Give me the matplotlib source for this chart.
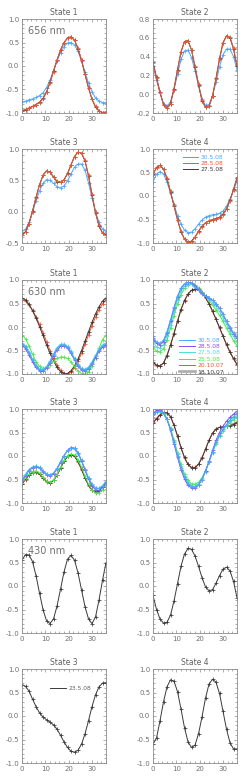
import matplotlib
matplotlib.use('Agg')
import matplotlib.pyplot as plt
from matplotlib.lines import Line2D
from matplotlib.ticker import MultipleLocator
import numpy as np

plt.rcParams['axes.unicode_minus'] = False

# sampling angle (every 1.5 units, 0..36)
angle = np.arange(0, 37.5, 1.5)

# ---------------- 656 nm ----------------
h656_s1_305 = [-0.77, -0.75, -0.72, -0.70, -0.67, -0.63, -0.57, -0.46, -0.30, -0.10, 0.10, 0.28, 0.41,
               0.49, 0.50, 0.45, 0.31, 0.11, -0.13, -0.36, -0.55, -0.68, -0.75, -0.78, -0.78]
h656_s1_285 = [-0.95, -0.92, -0.89, -0.86, -0.82, -0.78, -0.70, -0.56, -0.36, -0.12, 0.12, 0.33, 0.49,
               0.59, 0.62, 0.55, 0.38, 0.13, -0.17, -0.46, -0.70, -0.86, -0.95, -0.99, -0.98]
h656_s1_275 = [-0.96, -0.93, -0.90, -0.86, -0.82, -0.77, -0.69, -0.55, -0.35, -0.11, 0.13, 0.34, 0.50,
               0.60, 0.62, 0.55, 0.37, 0.12, -0.18, -0.47, -0.71, -0.87, -0.96, -0.99, -0.98]

h656_s2_305 = [0.30, 0.15, 0.01, -0.10, -0.13, -0.08, 0.05, 0.21, 0.37, 0.46, 0.47, 0.39, 0.25,
               0.09, -0.05, -0.12, -0.11, -0.02, 0.13, 0.29, 0.42, 0.48, 0.48, 0.40, 0.26]
h656_s2_285 = [0.33, 0.17, 0.02, -0.11, -0.15, -0.10, 0.05, 0.25, 0.45, 0.56, 0.57, 0.47, 0.30,
               0.11, -0.06, -0.14, -0.13, -0.02, 0.16, 0.37, 0.54, 0.62, 0.61, 0.49, 0.31]
h656_s2_275 = [0.34, 0.18, 0.02, -0.11, -0.15, -0.10, 0.06, 0.26, 0.45, 0.56, 0.57, 0.47, 0.29,
               0.10, -0.07, -0.14, -0.13, -0.02, 0.17, 0.38, 0.55, 0.62, 0.60, 0.48, 0.30]

h656_s3_305 = [-0.32, -0.28, -0.17, -0.01, 0.17, 0.33, 0.45, 0.51, 0.50, 0.45, 0.40, 0.38, 0.41,
               0.49, 0.60, 0.71, 0.76, 0.76, 0.66, 0.46, 0.22, 0.00, -0.17, -0.28, -0.32]
h656_s3_285 = [-0.38, -0.33, -0.20, 0.00, 0.22, 0.42, 0.58, 0.65, 0.63, 0.56, 0.49, 0.47, 0.50,
               0.60, 0.74, 0.88, 0.95, 0.94, 0.82, 0.58, 0.28, -0.01, -0.22, -0.34, -0.38]
h656_s3_275 = [-0.37, -0.32, -0.19, 0.01, 0.23, 0.43, 0.58, 0.65, 0.63, 0.55, 0.48, 0.47, 0.51,
               0.61, 0.75, 0.88, 0.95, 0.93, 0.81, 0.57, 0.27, -0.02, -0.23, -0.34, -0.37]

h656_s4_305 = [0.30, 0.46, 0.52, 0.47, 0.30, 0.06, -0.18, -0.42, -0.60, -0.73, -0.78, -0.77, -0.70,
               -0.60, -0.51, -0.45, -0.42, -0.40, -0.39, -0.37, -0.32, -0.22, -0.06, 0.12, 0.31]
h656_s4_285 = [0.45, 0.60, 0.65, 0.58, 0.38, 0.10, -0.20, -0.50, -0.75, -0.92, -0.98, -0.97, -0.88,
               -0.76, -0.65, -0.57, -0.53, -0.50, -0.49, -0.46, -0.40, -0.28, -0.10, 0.13, 0.38]
h656_s4_275 = [0.46, 0.61, 0.65, 0.57, 0.37, 0.09, -0.21, -0.51, -0.76, -0.92, -0.98, -0.96, -0.87,
               -0.75, -0.64, -0.57, -0.53, -0.50, -0.48, -0.45, -0.39, -0.27, -0.09, 0.14, 0.39]

# ---------------- 630 nm ----------------
r630_s1_305 = [-0.36, -0.42, -0.55, -0.70, -0.83, -0.91, -0.92, -0.86, -0.74, -0.59, -0.46, -0.39, -0.38,
               -0.43, -0.54, -0.68, -0.81, -0.90, -0.92, -0.87, -0.76, -0.62, -0.49, -0.40, -0.36]
r630_s1_285 = [-0.39, -0.46, -0.59, -0.74, -0.86, -0.93, -0.94, -0.88, -0.77, -0.62, -0.49, -0.41, -0.40,
               -0.45, -0.56, -0.70, -0.83, -0.92, -0.94, -0.89, -0.79, -0.65, -0.52, -0.43, -0.39]
r630_s1_275 = [-0.34, -0.40, -0.53, -0.68, -0.81, -0.89, -0.90, -0.84, -0.72, -0.57, -0.44, -0.37, -0.36,
               -0.41, -0.52, -0.66, -0.79, -0.88, -0.90, -0.85, -0.74, -0.60, -0.47, -0.38, -0.34]
r630_s1_255 = [-0.17, -0.25, -0.40, -0.58, -0.74, -0.84, -0.88, -0.86, -0.80, -0.73, -0.67, -0.64, -0.64,
               -0.67, -0.74, -0.84, -0.93, -0.99, -1.00, -0.95, -0.83, -0.65, -0.45, -0.27, -0.17]
r630_s1_2010 = [0.57, 0.55, 0.47, 0.36, 0.22, 0.06, -0.12, -0.31, -0.50, -0.67, -0.81, -0.92, -0.98,
                -1.00, -0.96, -0.87, -0.73, -0.56, -0.37, -0.17, 0.03, 0.21, 0.37, 0.49, 0.57]
r630_s1_1810 = [0.62, 0.58, 0.48, 0.35, 0.19, 0.01, -0.18, -0.38, -0.56, -0.72, -0.86, -0.95, -1.00,
                -0.99, -0.93, -0.83, -0.68, -0.50, -0.30, -0.10, 0.10, 0.28, 0.43, 0.55, 0.62]

r630_s2_305 = [-0.20, -0.32, -0.35, -0.28, -0.10, 0.15, 0.42, 0.66, 0.83, 0.92, 0.95, 0.93, 0.86,
               0.78, 0.71, 0.66, 0.62, 0.57, 0.50, 0.40, 0.27, 0.13, -0.01, -0.12, -0.21]
r630_s2_285 = [-0.24, -0.35, -0.38, -0.31, -0.12, 0.13, 0.40, 0.64, 0.82, 0.91, 0.95, 0.94, 0.88,
               0.80, 0.72, 0.66, 0.62, 0.57, 0.50, 0.40, 0.27, 0.12, -0.02, -0.14, -0.24]
r630_s2_275 = [-0.32, -0.42, -0.45, -0.38, -0.20, 0.05, 0.32, 0.57, 0.76, 0.87, 0.92, 0.92, 0.87,
               0.80, 0.72, 0.65, 0.59, 0.52, 0.44, 0.33, 0.20, 0.06, -0.08, -0.20, -0.31]
r630_s2_255 = [-0.43, -0.51, -0.53, -0.46, -0.28, -0.03, 0.24, 0.49, 0.69, 0.82, 0.89, 0.92, 0.90,
               0.84, 0.75, 0.66, 0.57, 0.47, 0.37, 0.25, 0.12, -0.02, -0.15, -0.29, -0.40]
r630_s2_2010 = [-0.76, -0.82, -0.83, -0.76, -0.60, -0.38, -0.13, 0.13, 0.38, 0.57, 0.70, 0.78, 0.80,
                0.78, 0.72, 0.62, 0.49, 0.33, 0.16, -0.02, -0.20, -0.38, -0.54, -0.68, -0.80]
r630_s2_1810 = [-0.75, -0.81, -0.83, -0.77, -0.61, -0.39, -0.14, 0.12, 0.37, 0.56, 0.70, 0.78, 0.81,
                0.79, 0.73, 0.63, 0.50, 0.34, 0.17, -0.01, -0.19, -0.37, -0.53, -0.67, -0.79]

r630_s3_305 = [-0.52, -0.40, -0.30, -0.24, -0.22, -0.25, -0.32, -0.39, -0.41, -0.37, -0.27, -0.13, 0.01,
               0.12, 0.17, 0.16, 0.07, -0.09, -0.28, -0.46, -0.60, -0.68, -0.69, -0.64, -0.55]
r630_s3_285 = [-0.54, -0.42, -0.31, -0.25, -0.23, -0.26, -0.33, -0.40, -0.42, -0.38, -0.28, -0.14, 0.00,
               0.12, 0.18, 0.17, 0.07, -0.10, -0.30, -0.49, -0.64, -0.72, -0.73, -0.67, -0.57]
r630_s3_275 = [-0.51, -0.39, -0.29, -0.23, -0.21, -0.24, -0.31, -0.38, -0.40, -0.36, -0.26, -0.12, 0.01,
               0.11, 0.16, 0.14, 0.05, -0.11, -0.29, -0.47, -0.61, -0.68, -0.69, -0.63, -0.54]
r630_s3_255 = [-0.58, -0.47, -0.38, -0.33, -0.32, -0.36, -0.45, -0.53, -0.56, -0.51, -0.40, -0.24, -0.09,
               0.01, 0.04, 0.02, -0.08, -0.24, -0.43, -0.60, -0.72, -0.78, -0.78, -0.72, -0.60]
r630_s3_2010 = [-0.60, -0.50, -0.41, -0.36, -0.35, -0.39, -0.47, -0.55, -0.57, -0.52, -0.41, -0.26, -0.11,
                -0.01, 0.02, -0.01, -0.12, -0.29, -0.47, -0.63, -0.73, -0.76, -0.74, -0.67, -0.57]
r630_s3_1810 = [-0.59, -0.49, -0.40, -0.35, -0.34, -0.38, -0.46, -0.54, -0.57, -0.52, -0.41, -0.26, -0.11,
                -0.01, 0.03, 0.00, -0.11, -0.28, -0.46, -0.62, -0.72, -0.76, -0.74, -0.67, -0.58]

r630_s4_305 = [0.84, 0.93, 0.96, 0.92, 0.79, 0.57, 0.29, 0.01, -0.25, -0.45, -0.59, -0.65, -0.66,
               -0.61, -0.50, -0.33, -0.13, 0.09, 0.29, 0.45, 0.57, 0.67, 0.76, 0.84, 0.91]
r630_s4_285 = [0.90, 0.97, 0.98, 0.92, 0.78, 0.55, 0.26, -0.03, -0.29, -0.49, -0.62, -0.68, -0.68,
               -0.62, -0.50, -0.32, -0.11, 0.12, 0.33, 0.50, 0.63, 0.74, 0.82, 0.89, 0.95]
r630_s4_275 = [0.88, 0.94, 0.95, 0.91, 0.78, 0.58, 0.31, 0.04, -0.22, -0.42, -0.56, -0.63, -0.64,
               -0.59, -0.48, -0.32, -0.13, 0.08, 0.27, 0.43, 0.55, 0.65, 0.73, 0.80, 0.86]
r630_s4_255 = [0.92, 0.95, 0.95, 0.90, 0.78, 0.59, 0.34, 0.07, -0.18, -0.38, -0.52, -0.59, -0.60,
               -0.56, -0.46, -0.31, -0.13, 0.07, 0.26, 0.42, 0.54, 0.64, 0.71, 0.77, 0.82]
r630_s4_2010 = [0.72, 0.80, 0.88, 0.93, 0.92, 0.83, 0.65, 0.42, 0.17, -0.04, -0.18, -0.24, -0.24,
                -0.17, -0.03, 0.15, 0.34, 0.49, 0.58, 0.61, 0.62, 0.63, 0.65, 0.69, 0.73]
r630_s4_1810 = [0.70, 0.79, 0.87, 0.92, 0.92, 0.84, 0.66, 0.43, 0.18, -0.03, -0.18, -0.25, -0.25,
                -0.18, -0.04, 0.14, 0.33, 0.48, 0.57, 0.61, 0.62, 0.63, 0.64, 0.67, 0.71]

# ---------------- 430 nm ----------------
b430_s1 = [0.55, 0.67, 0.66, 0.52, 0.22, -0.15, -0.50, -0.74, -0.80, -0.70, -0.43, -0.07, 0.30,
           0.57, 0.65, 0.55, 0.28, -0.08, -0.44, -0.70, -0.80, -0.66, -0.30, 0.12, 0.50]
b430_s2 = [-0.20, -0.50, -0.70, -0.79, -0.77, -0.62, -0.32, 0.05, 0.42, 0.68, 0.80, 0.78, 0.64,
           0.42, 0.18, -0.02, -0.10, -0.08, 0.06, 0.22, 0.36, 0.40, 0.32, 0.10, -0.25]
b430_s3 = [0.67, 0.63, 0.53, 0.36, 0.20, 0.07, -0.02, -0.08, -0.13, -0.19, -0.28, -0.41, -0.55,
           -0.67, -0.75, -0.77, -0.73, -0.60, -0.38, -0.10, 0.20, 0.45, 0.62, 0.70, 0.71]
b430_s4 = [-0.60, -0.47, -0.10, 0.30, 0.62, 0.77, 0.74, 0.52, 0.15, -0.25, -0.55, -0.67, -0.62,
           -0.38, -0.02, 0.38, 0.68, 0.78, 0.72, 0.48, 0.10, -0.28, -0.57, -0.70, -0.70]

states = ['State 1', 'State 2', 'State 3', 'State 4']
x_ticks = [0, 10, 20, 30]

# colours per observing date
c_blue = '#4aa6ff'
c_red = '#f2542c'
c_dark = '#3a3a3a'
c_purple = '#8a4cf0'
c_cyan = '#4fdcdc'
c_green = '#45ec45'
frame = '#8c8c8c'
txt = '#707070'

labels_656 = ['30.5.08', '28.5.08', '27.5.08']
colors_656 = [c_blue, c_red, c_dark]
series_656 = [
    [h656_s1_305, h656_s1_285, h656_s1_275],
    [h656_s2_305, h656_s2_285, h656_s2_275],
    [h656_s3_305, h656_s3_285, h656_s3_275],
    [h656_s4_305, h656_s4_285, h656_s4_275],
]

labels_630 = ['30.5.08', '28.5.08', '27.5.08', '25.5.08', '20.10.07', '18.10.07']
colors_630 = [c_blue, c_purple, c_cyan, c_green, c_red, c_dark]
series_630 = [
    [r630_s1_305, r630_s1_285, r630_s1_275, r630_s1_255, r630_s1_2010, r630_s1_1810],
    [r630_s2_305, r630_s2_285, r630_s2_275, r630_s2_255, r630_s2_2010, r630_s2_1810],
    [r630_s3_305, r630_s3_285, r630_s3_275, r630_s3_255, r630_s3_2010, r630_s3_1810],
    [r630_s4_305, r630_s4_285, r630_s4_275, r630_s4_255, r630_s4_2010, r630_s4_1810],
]

labels_430 = ['23.5.08']
colors_430 = [c_dark]
series_430 = [[b430_s1], [b430_s2], [b430_s3], [b430_s4]]

ylims_656 = [(-1.0, 1.0), (-0.2, 0.8), (-0.5, 1.0), (-1.0, 1.0)]
yticks_656 = [(0.5, 0.1), (0.2, 0.05), (0.5, 0.1), (0.5, 0.1)]

fig = plt.figure(figsize=(2.43, 7.78), dpi=100)
fig.patch.set_facecolor('white')

W, H = 243.0, 778.0
col_left = [22, 153]
row_top = [19, 149, 280, 409, 539, 669]
ax_w, ax_h = 84, 94


def make_axes(row, col):
    l = col_left[col] / W
    b = 1 - (row_top[row] + ax_h) / H
    ax = fig.add_axes([l, b, ax_w / W, ax_h / H])
    for sp in ax.spines.values():
        sp.set_color(frame)
        sp.set_linewidth(0.6)
    ax.set_xlim(0, 36)
    ax.set_xticks(x_ticks)
    ax.xaxis.set_minor_locator(MultipleLocator(2))
    ax.tick_params(which='both', direction='in', top=True, right=True,
                   colors=frame, labelcolor=txt, labelsize=5, width=0.5, pad=2)
    ax.tick_params(which='major', length=2.5)
    ax.tick_params(which='minor', length=1.3)
    return ax


def draw(ax, curves, colors, order):
    for i in order:
        ax.plot(angle, curves[i], color=colors[i], lw=0.7, marker='+',
                ms=3.2, mew=0.55)


blocks = [
    ('656 nm', series_656, colors_656, labels_656, [0, 2, 1]),
    ('630 nm', series_630, colors_630, labels_630, [4, 5, 3, 2, 1, 0]),
    ('430 nm', series_430, colors_430, labels_430, [0]),
]

for bi, (wave, series, colors, labels, order) in enumerate(blocks):
    for si in range(4):
        row = bi * 2 + si // 2
        col = si % 2
        ax = make_axes(row, col)
        draw(ax, series[si], colors, order)
        if bi == 0:
            ax.set_ylim(*ylims_656[si])
            ax.yaxis.set_major_locator(MultipleLocator(yticks_656[si][0]))
            ax.yaxis.set_minor_locator(MultipleLocator(yticks_656[si][1]))
        else:
            ax.set_ylim(-1.0, 1.0)
            ax.yaxis.set_major_locator(MultipleLocator(0.5))
            ax.yaxis.set_minor_locator(MultipleLocator(0.1))
        ax.yaxis.set_major_formatter(plt.FormatStrFormatter('%.1f'))
        ax.set_title(states[si], fontsize=5.5, color='#606060', pad=3)
        if si == 0:
            ax.text(0.07, 0.93, wave, transform=ax.transAxes, fontsize=7,
                    color='#707070', ha='left', va='top')

        # legends
        if bi == 0 and si == 3:
            handles = [Line2D([], [], color=c, lw=0.7) for c in colors]
            leg = ax.legend(handles, labels, loc='upper left', bbox_to_anchor=(0.32, 0.97),
                            fontsize=4.3, frameon=False, handlelength=2.6,
                            handletextpad=0.4, labelspacing=0.12, borderpad=0)
            for t, c in zip(leg.get_texts(), colors):
                t.set_color(c)
        if bi == 1 and si == 1:
            lcols = colors[:-1] + ['#b0b0b0']
            lws = [0.7] * 5 + [2.0]
            handles = [Line2D([], [], color=c, lw=w) for c, w in zip(lcols, lws)]
            leg = ax.legend(handles, labels, loc='upper left', bbox_to_anchor=(0.27, 0.42),
                            fontsize=4.3, frameon=False, handlelength=2.8,
                            handletextpad=0.4, labelspacing=0.2, borderpad=0)
            for t, c in zip(leg.get_texts(), colors):
                t.set_color(c)
        if bi == 2 and si == 2:
            handles = [Line2D([], [], color=c_dark, lw=0.7)]
            leg = ax.legend(handles, labels, loc='upper left', bbox_to_anchor=(0.30, 0.85),
                            fontsize=4.3, frameon=False, handlelength=2.6,
                            handletextpad=0.5, borderpad=0)
            leg.get_texts()[0].set_color('#606060')

fig.savefig('out.png', dpi=100, facecolor='white')
